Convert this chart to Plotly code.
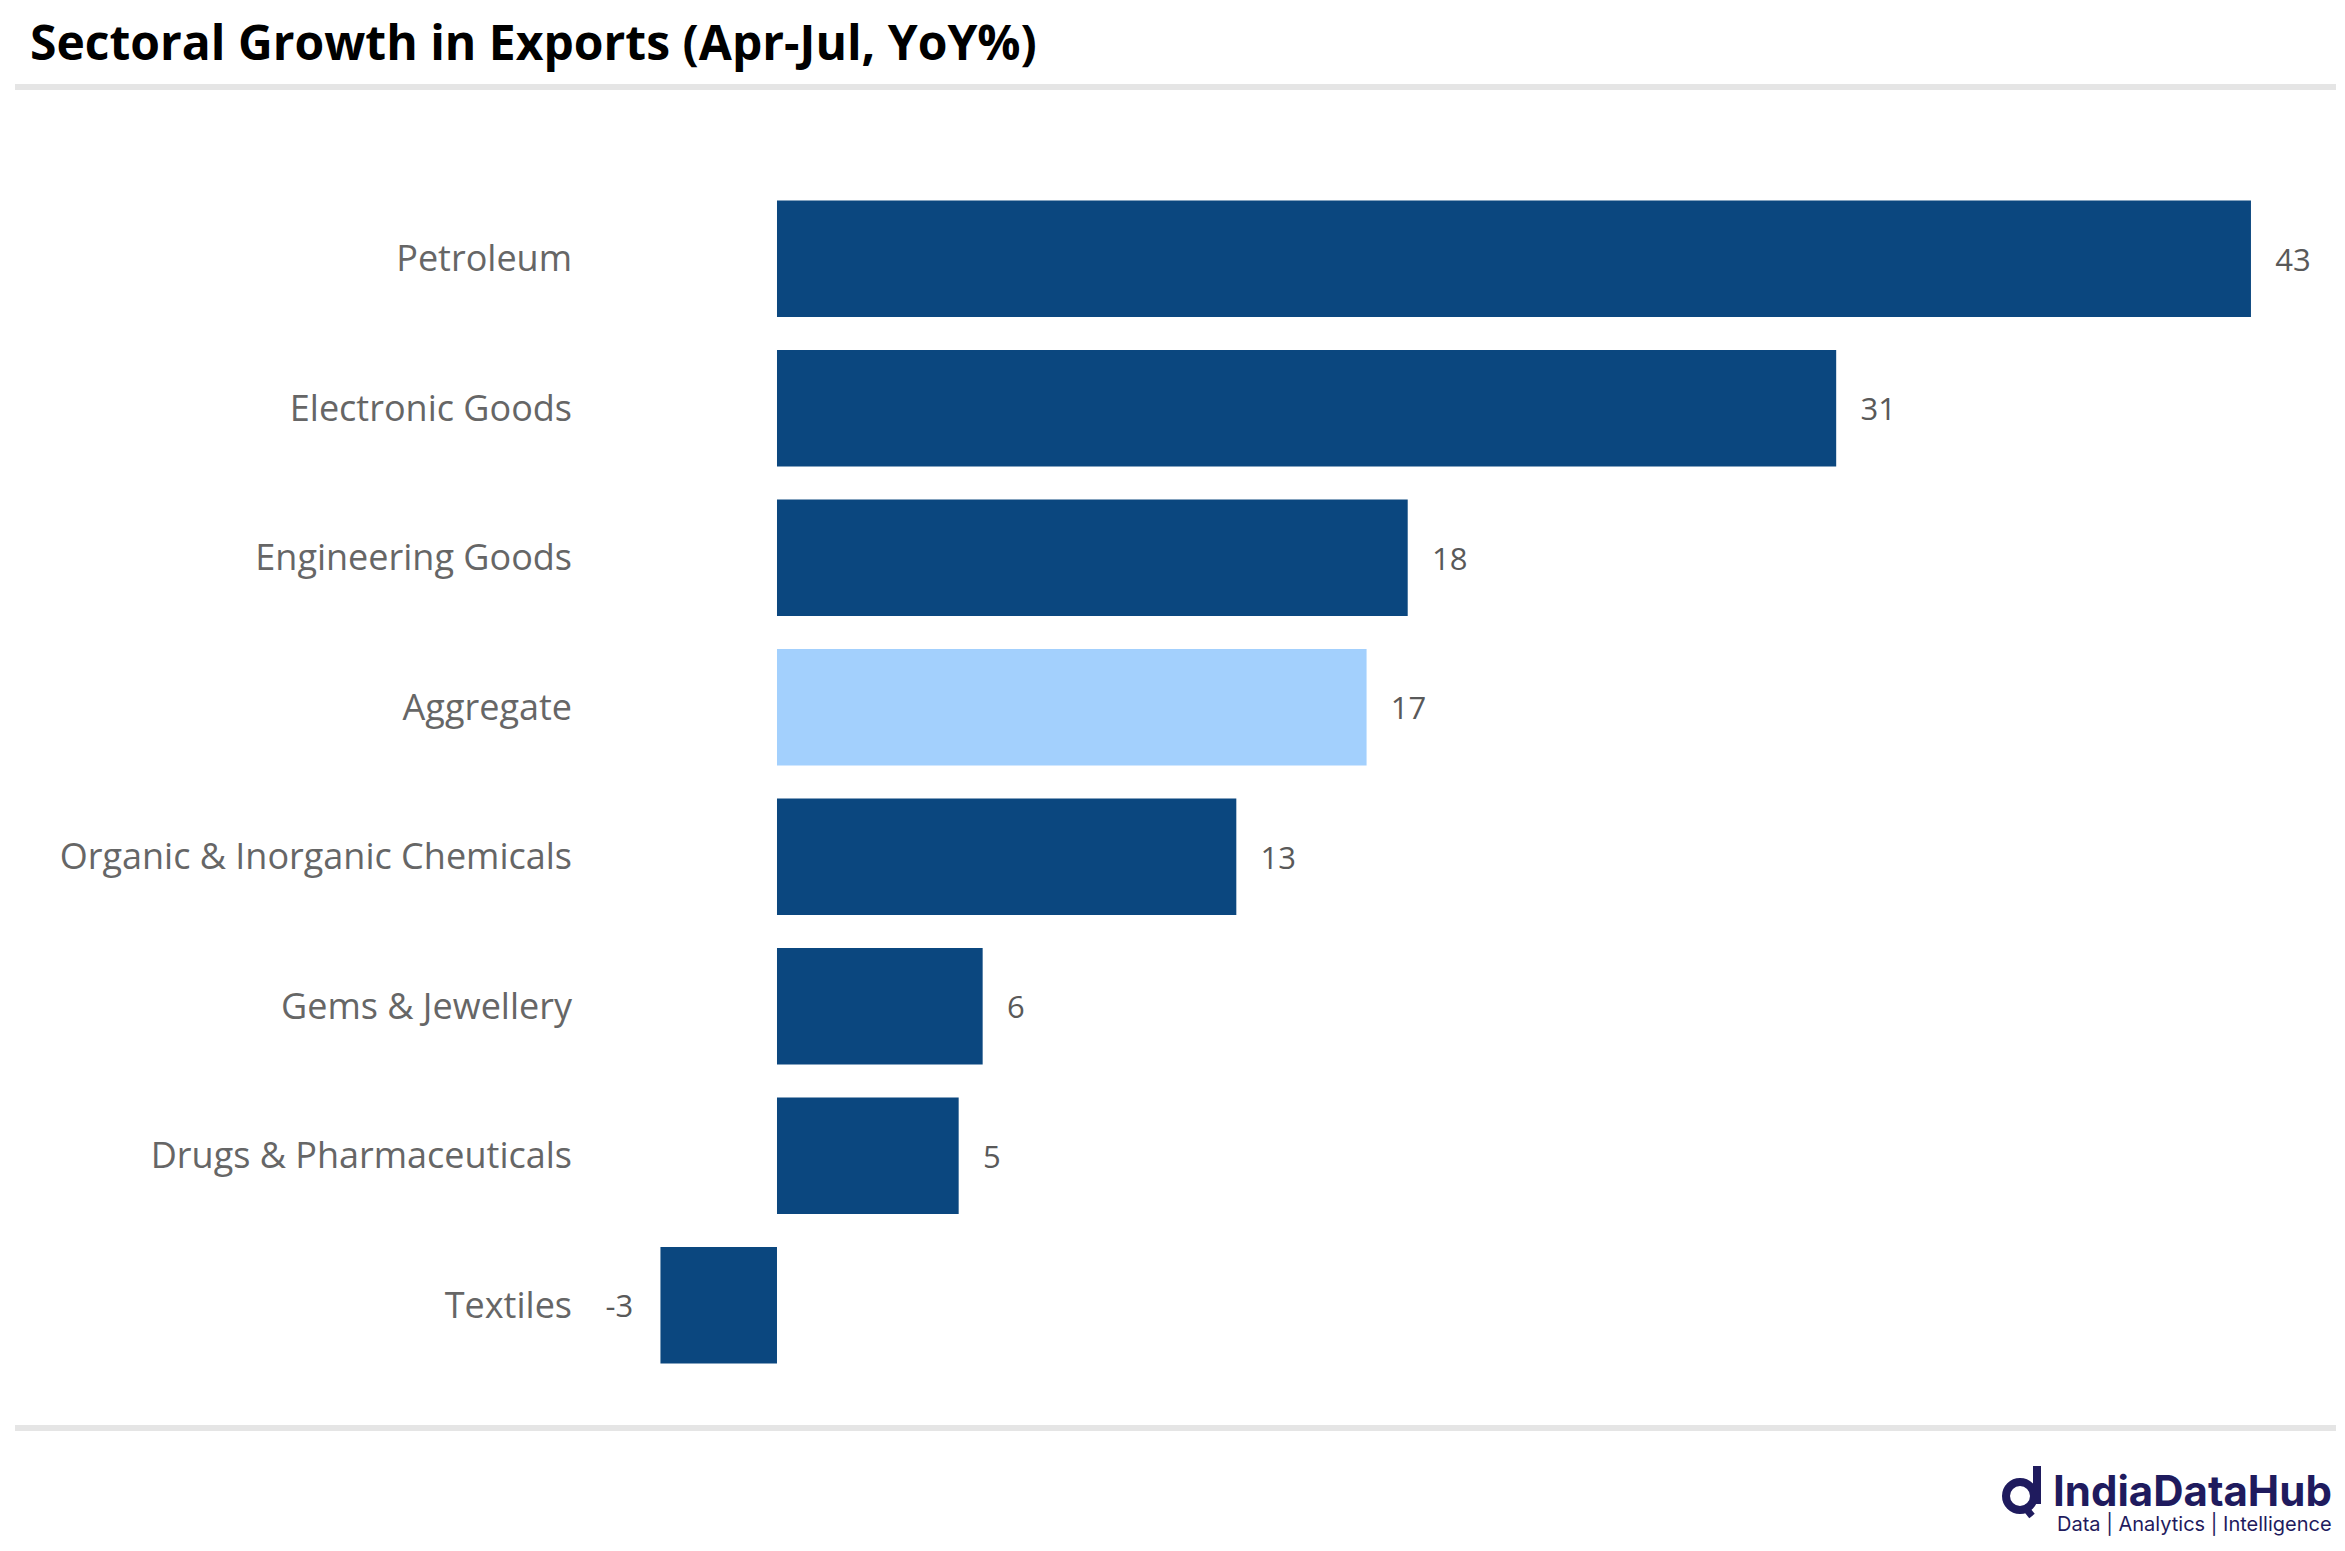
import plotly.graph_objects as go

# data
sectors = ["Petroleum", "Electronic Goods", "Engineering Goods", "Aggregate",
           "Organic & Inorganic Chemicals", "Gems & Jewellery",
           "Drugs & Pharmaceuticals", "Textiles"]
growth = [43.0, 30.9, 18.4, 17.2, 13.4, 6.0, 5.3, -3.4]
highlight = "Aggregate"

# page body has an 8px margin, so the figure is drawn 8px in from the window edge
OFF = 8
W, H = 2345 - 2 * OFF, 1551 - 2 * OFF
ML, MR, MT, MB = 620 - OFF, 20 - OFF, 184 - OFF, 171 - OFF
PW, PH = W - ML - MR, H - MT - MB

DARK = "#0b477f"
LIGHT = "#a3d0fd"
NAVY = "#1f1b5e"


def px(x):
    # window pixel -> paper x
    return (x - OFF - ML) / PW


def py(y):
    # window pixel -> paper y
    return (H - MB - (y - OFF)) / PH


colors = [LIGHT if s == highlight else DARK for s in sectors]
labels = ["\u00a0\u00a0\u2009%.0f" % v if v >= 0 else "%.0f\u00a0\u00a0\u00a0" % v for v in growth]

fig = go.Figure(go.Bar(
    x=growth, y=sectors, orientation="h",
    marker=dict(color=colors, line=dict(width=0)),
    text=labels, textposition="outside", constraintext="none",
    textfont=dict(family="Open Sans", size=31, color="#595959"),
    cliponaxis=False, hoverinfo="skip",
))

fig.update_layout(
    width=W, height=H,
    margin=dict(l=ML, r=MR, t=MT, b=MB),
    plot_bgcolor="white", paper_bgcolor="white",
    bargap=0.22, showlegend=False,
    title=dict(text="<b>Sectoral Growth in Exports (Apr-Jul, YoY%)</b>",
               x=(30 - OFF) / W, xanchor="left", xref="container",
               y=1 - (43 - OFF) / H, yanchor="middle", yref="container",
               font=dict(family="Open Sans", size=48, color="black")),
    xaxis=dict(range=[-4.58, 45.16], visible=False, fixedrange=True),
    yaxis=dict(categoryorder="array", categoryarray=sectors[::-1],
               showgrid=False, showline=False, zeroline=False, ticks="",
               ticklabelstandoff=47,
               tickfont=dict(family="Open Sans", size=36, color="#666666")),
)

# separator lines
for yy in (87, 1428):
    fig.add_shape(type="line", xref="paper", yref="paper",
                  x0=px(15), x1=px(2336), y0=py(yy), y1=py(yy),
                  line=dict(color="#e5e5e5", width=6))

# logo
fig.add_shape(type="circle", xref="paper", yref="paper",
              x0=px(2006), x1=px(2034), y0=py(1510), y1=py(1482),
              line=dict(color=NAVY, width=8))
fig.add_shape(type="line", xref="paper", yref="paper",
              x0=px(2037), x1=px(2037), y0=py(1466), y1=py(1504),
              line=dict(color=NAVY, width=8))
fig.add_shape(type="line", xref="paper", yref="paper",
              x0=px(2024), x1=px(2032), y0=py(1506), y1=py(1516),
              line=dict(color=NAVY, width=7))
fig.add_annotation(text="<b>IndiaDataHub</b>", xref="paper", yref="paper",
                   x=px(2334), y=py(1490), xanchor="right", yanchor="middle",
                   showarrow=False, font=dict(family="Inter", size=42, color=NAVY))
fig.add_annotation(text="Data | Analytics | Intelligence", xref="paper", yref="paper",
                   x=px(2334), y=py(1524), xanchor="right", yanchor="middle",
                   showarrow=False, font=dict(family="Inter", size=20, color=NAVY))

fig.write_html("out.html")
